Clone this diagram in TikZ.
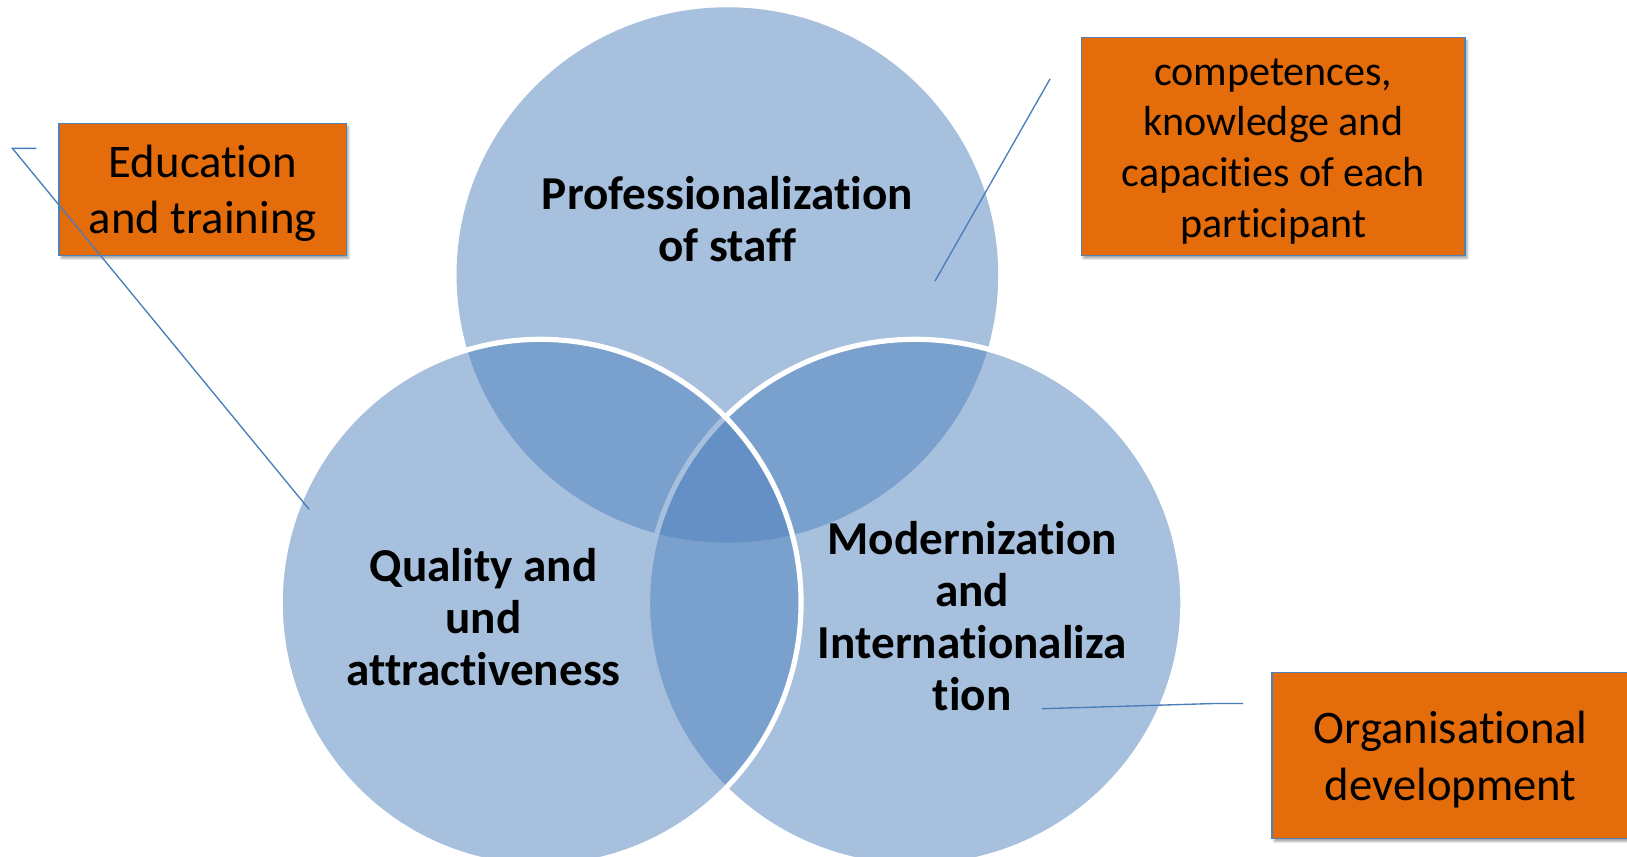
\documentclass[tikz,border=0pt]{standalone}
\usepackage{fontspec}
\setmainfont{Carlito}[Ligatures={NoCommon}]
\usetikzlibrary{shapes.geometric,shadows.blur}
\definecolor{accent}{RGB}{79,129,189}
\definecolor{boxorange}{RGB}{228,108,10}
\definecolor{linkblue}{RGB}{74,126,187}
\tikzset{
  venn/.style={ellipse, inner sep=0pt, fill=accent, fill opacity=0.5},
  vennrim/.style={venn, draw=white, draw opacity=1, line width=5pt},
  lbl/.style={font=\fontsize{45.5}{50}\selectfont\bfseries, align=center, text=black, inner sep=0pt},
  obox/.style={fill=boxorange, draw=accent, line width=1.3pt, inner sep=0pt,
    blur shadow={shadow xshift=2pt, shadow yshift=-3pt, shadow blur steps=6, shadow opacity=35}},
  otxt/.style={align=center, text=black, inner sep=0pt},
  link/.style={draw=linkblue, line width=1.3pt}
}
\begin{document}
\begin{tikzpicture}[x=1pt,y=-1pt]
\useasboundingbox (0,0) rectangle (1568,825);
% circles
\node[venn, minimum width=522pt, minimum height=516pt] (ctop) at (701,265) {};
\node[vennrim, minimum width=516pt, minimum height=508pt] (cright) at (882,581) {};
\node[vennrim, minimum width=502pt, minimum height=508pt] (cleft) at (521,581) {};
% circle labels
\node[lbl] (ltop) at (701,211) {Professionalization\\of staff};
\node[lbl] (lleft) at (466,595) {Quality and\\und\\attractiveness};
\node[lbl] (lright) at (937,594) {Modernization\\and\\Internationaliza\\tion};
% boxes
\node[obox, minimum width=277pt, minimum height=127pt] (bedu) at (195.5,182.5) {};
\node[otxt, font=\fontsize{45}{54}\selectfont] (tedu) at ([yshift=-4pt]bedu.center) {Education\\and training};
\node[obox, minimum width=370pt, minimum height=210pt] (bcomp) at (1227,141) {};
\node[otxt, font=\fontsize{40.5}{49}\selectfont] (tcomp) at ([yshift=-5pt]bcomp.center) {competences,\\knowledge and\\capacities of each\\participant};
\node[obox, minimum width=344pt, minimum height=160pt] (borg) at (1398,728) {};
\node[otxt, font=\fontsize{45}{55}\selectfont] (torg) at ([yshift=-4pt]borg.center) {Organisational\\development};
% connector lines
\coordinate (e1) at (12,143);
\coordinate (e1t) at (35,143);
\coordinate (e1b) at (298,491);
\draw[link] (e1t) -- (e1) -- (e1b);
\coordinate (e2a) at (1012,76);
\coordinate (e2b) at (901,271);
\draw[link] (e2a) -- (e2b);
\coordinate (e3a) at (1004,683);
\coordinate (e3m) at (1170,678);
\coordinate (e3b) at (1198,678);
\draw[link] (e3a) -- (e3m) -- (e3b);
\end{tikzpicture}
\end{document}
